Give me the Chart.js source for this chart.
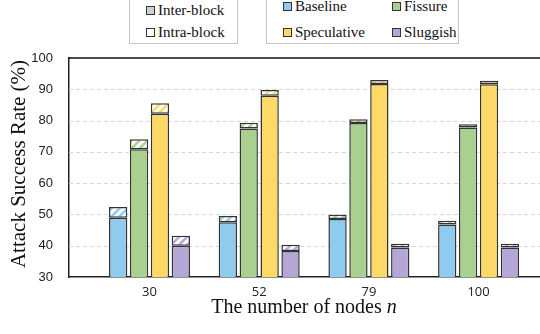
<!DOCTYPE html>
<html>
<head>
<meta charset="utf-8">
<script src="https://cdn.jsdelivr.net/npm/chart.js@4"></script>
<style>
  body{margin:0;background:#fff;}
  #wrap{position:relative;width:540px;height:334px;overflow:hidden;}
  .lg{position:absolute;border:1px solid #c4c4c4;background:#fff;font-family:"Liberation Serif",serif;font-size:15px;color:#111;}
  .it{position:absolute;white-space:nowrap;line-height:16px;}
  .sw{display:inline-block;width:7px;height:7px;border:1.5px solid #333;margin-right:3px;vertical-align:0px;}
  .ttl{position:absolute;font-family:"Liberation Serif",serif;font-size:20px;color:#111;white-space:nowrap;text-align:center;}
</style>
</head>
<body>
<div id="wrap">
  <canvas id="c" width="540" height="334"></canvas>
  <div class="lg" style="left:129px;top:-2px;width:107px;height:44px;">
    <div class="it" style="left:16px;top:3px;"><span class="sw" style="background:#d0d0d0"></span>Inter-block</div>
    <div class="it" style="left:16px;top:25px;"><span class="sw" style="background:#fff"></span>Intra-block</div>
  </div>
  <div class="lg" style="left:266px;top:-2px;width:191px;height:44px;">
    <div class="it" style="left:16px;top:-1px;"><span class="sw" style="background:#8ecbef"></span>Baseline</div>
    <div class="it" style="left:125px;top:-1px;"><span class="sw" style="background:#a9d08e"></span>Fissure</div>
    <div class="it" style="left:16px;top:25px;"><span class="sw" style="background:#ffd966"></span>Speculative</div>
    <div class="it" style="left:125px;top:25px;"><span class="sw" style="background:#b4a7d6"></span>Sluggish</div>
  </div>
  <div class="ttl" style="left:-102px;top:152px;width:240px;line-height:24px;font-size:21px;transform:rotate(-90deg);">Attack Success Rate (%)</div>
  <div class="ttl" style="left:184px;top:294px;width:240px;line-height:24px;">The number of nodes <i>n</i></div>
</div>
<script>
const categories = ['30', '52', '79', '100'];
const seriesNames = ['Baseline', 'Fissure', 'Speculative', 'Sluggish'];
// inter-block (solid) part and intra-block (hatched) extra on top
const baselineInter = [48.9, 47.5, 48.5, 46.8];
const baselineIntra = [3.5, 2.0, 1.4, 1.2];
const fissureInter = [70.8, 77.5, 79.2, 77.8];
const fissureIntra = [3.2, 1.8, 1.2, 1.0];
const speculativeInter = [82.2, 87.9, 91.7, 91.6];
const speculativeIntra = [3.3, 1.9, 1.3, 1.1];
const sluggishInter = [40.0, 38.3, 39.4, 39.4];
const sluggishIntra = [3.2, 2.0, 1.2, 1.2];
const yTicks = [30, 40, 50, 60, 70, 80, 90, 100];

const colors = ['#8ecbef', '#a9d08e', '#ffd966', '#b4a7d6'];
const inter = [baselineInter, fissureInter, speculativeInter, sluggishInter];
const intra = [baselineIntra, fissureIntra, speculativeIntra, sluggishIntra];

function hatch(color){
  const s = 8;
  const c = document.createElement('canvas'); c.width = s; c.height = s;
  const g = c.getContext('2d');
  g.fillStyle = '#fff'; g.fillRect(0, 0, s, s);
  g.strokeStyle = color; g.lineWidth = 2.6;
  g.beginPath();
  g.moveTo(-2, s + 2); g.lineTo(s + 2, -2);
  g.moveTo(-2, 2); g.lineTo(2, -2);
  g.moveTo(s - 2, s + 2); g.lineTo(s + 2, s - 2);
  g.stroke();
  return g.createPattern(c, 'repeat');
}

const datasets = [];
seriesNames.forEach((name, k) => {
  datasets.push({ label: name + ' inter', stack: name, data: inter[k].map((v, i) => ({x: i, y: v})),
    backgroundColor: colors[k], borderColor: '#333', borderWidth: 1.5, borderSkipped: false });
  datasets.push({ label: name + ' intra', stack: name, data: intra[k].map((v, i) => ({x: i, y: v})),
    backgroundColor: hatch(colors[k]), borderColor: '#333', borderWidth: 1.5, borderSkipped: false });
});

// dashed grid lines + top frame line
const gridPlugin = {
  id: 'grid',
  beforeDatasetsDraw(chart){
    const {ctx, chartArea: a, scales: {y}} = chart;
    ctx.save();
    ctx.strokeStyle = '#d6d6d6'; ctx.lineWidth = 1; ctx.setLineDash([4, 3]);
    yTicks.slice(1, -1).forEach(t => {
      const py = Math.round(y.getPixelForValue(t)) + 0.5;
      ctx.beginPath(); ctx.moveTo(a.left, py); ctx.lineTo(a.right, py); ctx.stroke();
    });
    ctx.setLineDash([]); ctx.strokeStyle = '#111'; ctx.lineWidth = 1.5;
    const top = y.getPixelForValue(100);
    ctx.beginPath(); ctx.moveTo(a.left, top); ctx.lineTo(a.right, top); ctx.stroke();
    ctx.restore();
  }
};

new Chart(document.getElementById('c').getContext('2d'), {
  type: 'bar',
  data: { datasets },
  options: {
    responsive: false, animation: false,
    categoryPercentage: 0.762, barPercentage: 0.876,
    layout: { padding: { top: 58, left: 0, right: 0, bottom: 0 } },
    plugins: { legend: { display: false }, tooltip: { enabled: false } },
    scales: {
      x: {
        type: 'linear', min: -0.734, max: 3.56, offset: false,
        afterBuildTicks: s => { s.ticks = categories.map((c, i) => ({value: i})); },
        afterFit: s => { s.height = 57; },
        grid: { display: false, drawTicks: false },
        border: { display: true, color: '#222', width: 1.5 },
        ticks: { padding: 7, color: '#222', font: { family: 'Open Sans', size: 13 },
          callback: v => categories[v] }
      },
      y: {
        stacked: true, min: 30, max: 100,
        afterBuildTicks: s => { s.ticks = yTicks.map(v => ({value: v})); },
        afterFit: s => { s.width = 69; },
        grid: { display: false, drawTicks: false },
        border: { display: true, color: '#222', width: 1.5 },
        ticks: { padding: 16, color: '#222', font: { family: 'Liberation Sans', size: 13 } }
      }
    }
  },
  plugins: [gridPlugin]
});
</script>
</body>
</html>
